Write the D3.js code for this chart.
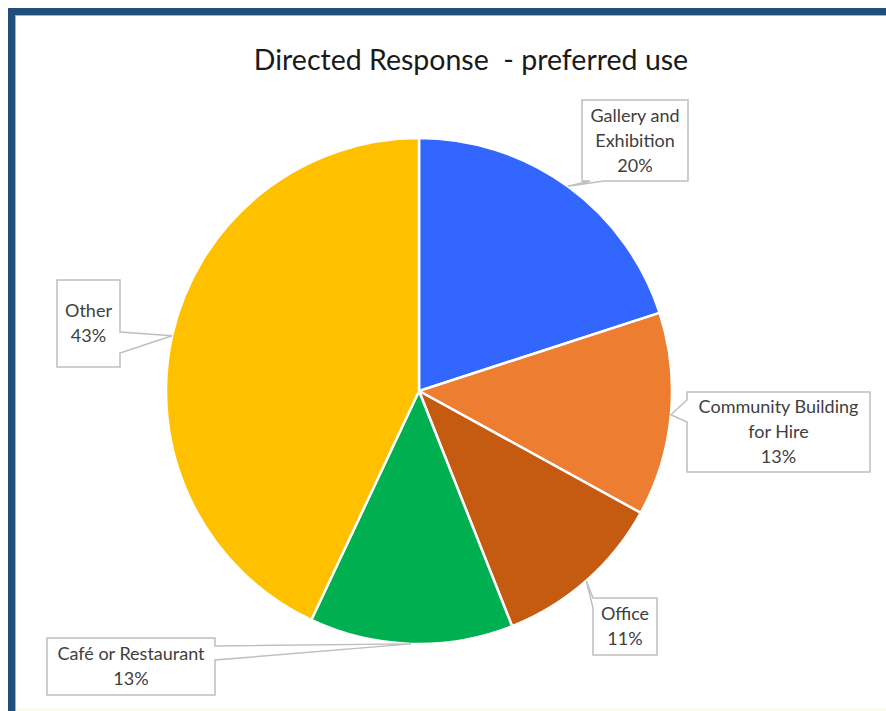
<!DOCTYPE html>
<html>
<head>
<meta charset="utf-8">
<script src="https://cdn.jsdelivr.net/npm/d3@7"></script>
<style>
  html, body { margin: 0; padding: 0; background: #ffffff; }
  svg { display: block; }
</style>
</head>
<body>
<div id="chart"></div>
<script>
// ── Data ─────────────────────────────────────────────────────────
const categories = ["Gallery and Exhibition", "Community Building for Hire", "Office", "Café or Restaurant", "Other"];
const shares = [20, 13, 11, 13, 43];
const labelLines = [["Gallery and", "Exhibition"], ["Community Building", "for Hire"], ["Office"], ["Café or Restaurant"], ["Other"]];
const pctLabels = ["20%", "13%", "11%", "13%", "43%"];

// ── Style / layout ───────────────────────────────────────────────
const colors = ["#3366ff", "#ed7d31", "#c55a11", "#00b050", "#ffc000"];
// callout boxes: rect + which side the pointer leaves from (o0..o1 = base of the wedge on that side)
const callouts = [
    { x: 582, y: 100, w: 106, h: 81, side: "bottom", o0: 8, o1: 22 },
    { x: 687, y: 392, w: 183, h: 80, side: "left", o0: 8, o1: 30 },
    { x: 593, y: 598, w: 64, h: 57, side: "left", o0: 0, o1: 10 },
    { x: 47, y: 638, w: 168, h: 57, side: "right", o0: 8, o1: 22 },
    { x: 57, y: 280, w: 63, h: 87, side: "right", o0: 52, o1: 73 }
];

const W = 886, H = 711;
const cx = 419, cy = 391, R = 253;
const FONT = "Lato, 'Open Sans', sans-serif";

const svg = d3.select("#chart").append("svg")
    .attr("width", W)
    .attr("height", H);

// dark blue frame (bottom and right edges run off the picture)
svg.append("rect")
    .attr("x", 11.5).attr("y", 11.5)
    .attr("width", W + 40).attr("height", H + 40)
    .attr("fill", "#ffffff")
    .attr("stroke", "#1f4e79")
    .attr("stroke-width", 7);
svg.append("rect")
    .attr("x", 15.5).attr("y", 15.5)
    .attr("width", W + 40).attr("height", H + 40)
    .attr("fill", "none")
    .attr("stroke", "#9db3cf")
    .attr("stroke-width", 1);
svg.append("rect").attr("x", 16).attr("y", 708).attr("width", W).attr("height", 3).attr("fill", "#fffbea");

// title
svg.append("text")
    .attr("x", 471).attr("y", 70)
    .attr("text-anchor", "middle")
    .style("font-family", FONT)
    .style("font-size", "28.5px")
    .style("white-space", "pre")
    .style("fill", "#1a1a1a")
    .text("Directed Response  - preferred use");

// ── Pie ──────────────────────────────────────────────────────────
const pie = d3.pie().sort(null).value(d => d);
const arcs = pie(shares);
const arc = d3.arc().innerRadius(0).outerRadius(R);
const edge = d3.arc().innerRadius(R).outerRadius(R);

const g = svg.append("g").attr("transform", `translate(${cx},${cy})`);
g.selectAll("path.slice")
    .data(arcs)
    .join("path")
    .attr("class", "slice")
    .attr("d", arc)
    .attr("fill", (d, i) => colors[i])
    .attr("stroke", "#ffffff")
    .attr("stroke-width", 2.5);

// ── Callouts ─────────────────────────────────────────────────────
function calloutPath(b, tip, side, o0, o1) {
    const x0 = b.x, y0 = b.y, x1 = b.x + b.w, y1 = b.y + b.h;
    const p = [[x0, y0]];
    if (side === "top") p.push([x0 + o0, y0], tip, [x0 + o1, y0]);
    p.push([x1, y0]);
    if (side === "right") p.push([x1, y0 + o0], tip, [x1, y0 + o1]);
    p.push([x1, y1]);
    if (side === "bottom") p.push([x0 + o1, y1], tip, [x0 + o0, y1]);
    p.push([x0, y1]);
    if (side === "left") p.push([x0, y0 + o1], tip, [x0, y0 + o0]);
    return d3.line()(p) + "Z";
}

const lab = svg.append("g");
arcs.forEach(function (d, i) {
    const c = callouts[i];
    const e = edge.centroid(d);
    const tip = [cx + e[0], cy + e[1]];

    lab.append("path")
        .attr("d", calloutPath(c, tip, c.side, c.o0, c.o1))
        .attr("fill", "#ffffff")
        .attr("stroke", "#bfbfbf")
        .attr("stroke-width", 1.5)
        .attr("stroke-linejoin", "miter");

    const lines = labelLines[i].concat([pctLabels[i]]);
    const lh = 25;
    const midY = c.y + c.h / 2;
    const t = lab.append("text")
        .attr("text-anchor", "middle")
        .style("font-family", FONT)
        .style("font-size", "18px")
        .style("fill", "#404040");
    lines.forEach(function (s, k) {
        t.append("tspan")
            .attr("x", c.x + c.w / 2)
            .attr("y", midY + (k - (lines.length - 1) / 2) * lh + 6)
            .text(s);
    });
});
</script>
</body>
</html>
